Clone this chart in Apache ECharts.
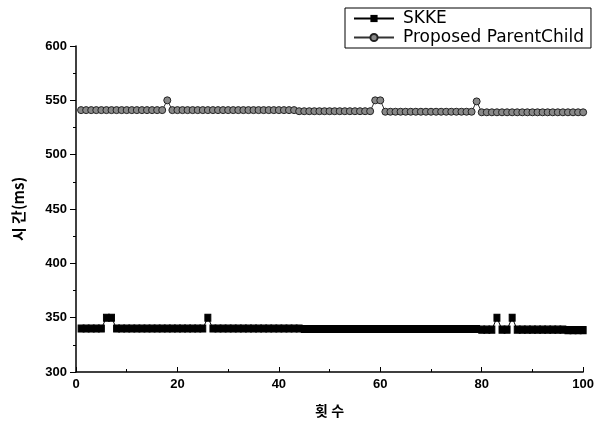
<!DOCTYPE html>
<html><head><meta charset="utf-8">
<script src="https://cdn.jsdelivr.net/npm/echarts@6/dist/echarts.min.js"></script>
<style>html,body{margin:0;padding:0;background:#fff}#c{width:597px;height:426px}</style>
</head><body><div id="c"></div>
<script>
const xTicks = [0, 20, 40, 60, 80, 100];
const yTicks = [300, 350, 400, 450, 500, 550, 600];
const seriesNames = ['SKKE', 'Proposed ParentChild'];
const skke = [
340,340,340,340,340,350,350,340,340,340,
340,340,340,340,340,340,340,340,340,340,
340,340,340,340,340,350,340,340,340,340,
340,340,340,340,340,340,340,340,340,340,
340,340,340,340,339.5,339.5,339.5,339.5,339.5,339.5,
339.5,339.5,339.5,339.5,339.5,339.5,339.5,339.5,339.5,339.5,
339.5,339.5,339.5,339.5,339.5,339.5,339.5,339.5,339.5,339.5,
339.5,339.5,339.5,339.5,339.5,339.5,339.5,339.5,339.5,339,
339,339,350,339,339,350,339,339,339,339,
339,339,339,339,339,339,338.5,338.5,338.5,338.5
];
const proposed = [
541,541,541,541,541,541,541,541,541,541,
541,541,541,541,541,541,541,550,541,541,
541,541,541,541,541,541,541,541,541,541,
541,541,541,541,541,541,541,541,541,541,
541,541,541,540,540,540,540,540,540,540,
540,540,540,540,540,540,540,540,550,550,
539.5,539.5,539.5,539.5,539.5,539.5,539.5,539.5,539.5,539.5,
539.5,539.5,539.5,539.5,539.5,539.5,539.5,539.5,549,539,
539,539,539,539,539,539,539,539,539,539,
539,539,539,539,539,539,539,539,539,539
];
const xs = skke.map((v, i) => i + 1);
const chart = echarts.init(document.getElementById('c'), null, {renderer: 'canvas'});
const font = 'Arial, "Liberation Sans", sans-serif';
chart.setOption({
  animation: false,
  backgroundColor: '#fff',
  grid: {left: 76, right: 11, top: 46, bottom: 54},
  legend: {
    orient: 'vertical', left: 345, top: 8, itemWidth: 40, itemHeight: 9, itemGap: 2,
    backgroundColor: '#fff', borderColor: '#000', borderWidth: 1, borderRadius: 0,
    padding: [2, 7, 2, 8],
    textStyle: {fontFamily: '"DejaVu Sans"', fontSize: 17, color: '#000', padding: [0, 0, 0, 4]},
    data: seriesNames
  },
  xAxis: {
    type: 'value', min: 0, max: 100, interval: 20,
    axisLine: {lineStyle: {color: '#000', width: 1.5}},
    axisTick: {inside: true, length: 5, lineStyle: {color: '#000'}},
    minorTick: {show: true, splitNumber: 2, length: 3, lineStyle: {color: '#000'}},
    splitLine: {show: false},
    axisLabel: {fontFamily: font, fontSize: 13, fontWeight: 'bold', color: '#000', margin: 6,
      formatter: v => xTicks.includes(v) ? String(v) : ''},
    name: '횟 수', nameLocation: 'middle', nameGap: 32,
    nameTextStyle: {fontFamily: '"Noto Sans CJK KR"', fontSize: 14, fontWeight: 'bold', color: '#000'}
  },
  yAxis: {
    type: 'value', min: 300, max: 600, interval: 50,
    axisLine: {show: true, lineStyle: {color: '#000', width: 1.5}},
    axisTick: {inside: false, length: 6, lineStyle: {color: '#000'}},
    minorTick: {show: true, splitNumber: 2, length: 3, lineStyle: {color: '#000'}},
    splitLine: {show: false},
    axisLabel: {fontFamily: font, fontSize: 13, fontWeight: 'bold', color: '#000', margin: 9,
      formatter: v => yTicks.includes(v) ? String(v) : ''},
    name: '시 간(ms)', nameLocation: 'middle', nameGap: 50,
    nameTextStyle: {fontFamily: '"Noto Sans CJK KR"', fontSize: 15, fontWeight: 'bold', color: '#000'}
  },
  series: [
    {
      name: seriesNames[0], type: 'line', data: xs.map((x, i) => [x, skke[i]]),
      symbol: 'rect', symbolSize: [6, 7],
      itemStyle: {color: '#000', borderColor: '#000'},
      lineStyle: {color: '#000', width: 1}
    },
    {
      name: seriesNames[1], type: 'line', data: xs.map((x, i) => [x, proposed[i]]),
      symbol: 'circle', symbolSize: 7,
      itemStyle: {color: '#888', borderColor: '#222', borderWidth: 1},
      lineStyle: {color: '#333', width: 1}
    }
  ]
});
</script></body></html>
